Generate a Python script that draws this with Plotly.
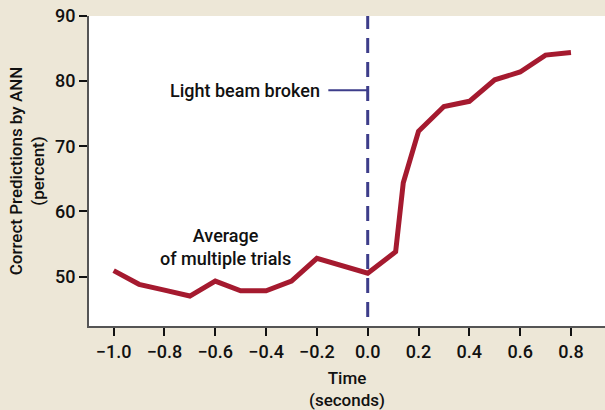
import plotly.graph_objects as go

time_s = [-1.0, -0.9, -0.8, -0.7, -0.6, -0.5, -0.4, -0.3, -0.2, 0.0, 0.11, 0.14, 0.2, 0.3, 0.4, 0.5, 0.6, 0.7, 0.8]
correct_pct = [50.9, 48.8, 47.9, 47.0, 49.3, 47.8, 47.8, 49.3, 52.8, 50.5, 53.8, 64.4, 72.3, 76.1, 76.9, 80.2, 81.4, 84.0, 84.4]
x_ticks = [-1.0, -0.8, -0.6, -0.4, -0.2, 0.0, 0.2, 0.4, 0.6, 0.8]
y_ticks = [50, 60, 70, 80, 90]

FONT = "Roboto"
W = 500
bg = "#EDE7D7"

fig = go.Figure()
fig.add_trace(go.Scatter(x=time_s, y=correct_pct, mode="lines",
                         line=dict(color="#A51A2F", width=5), hoverinfo="skip"))

fig.add_shape(type="line", x0=0, x1=0, y0=43.8, y1=90, xref="x", yref="y",
              line=dict(color="#3D3D8A", width=3, dash="15px,9px"))
fig.add_shape(type="line", x0=-0.155, x1=0, y0=78.6, y1=78.6, xref="x", yref="y",
              line=dict(color="#3D3D8A", width=2))

fig.add_annotation(x=-0.18, y=78.6, text="Light beam broken", showarrow=False,
                   xanchor="right", yanchor="middle",
                   font=dict(family=FONT, size=18, color="#111", weight=W))
fig.add_annotation(x=-0.56, y=54.6, text="Average<br>of multiple trials", showarrow=False,
                   xanchor="center", yanchor="middle", align="center",
                   font=dict(family=FONT, size=18, color="#111", weight=W))

fig.update_layout(
    width=605, height=410,
    margin=dict(l=89, r=0, t=16, b=84),
    paper_bgcolor=bg, plot_bgcolor="white",
    showlegend=False,
    font=dict(family=FONT, size=18, color="#111", weight=W),
    xaxis=dict(range=[-1.097, 0.934], tickvals=x_ticks, tickformat=".1f", automargin=False,
               showgrid=False, zeroline=False, showline=True, linecolor="#555", linewidth=2,
               ticks="outside", ticklen=8, tickwidth=2, tickcolor="#111",
               tickfont=dict(size=18, weight=W),
               title=dict(text="Time<br>(seconds)", font=dict(family=FONT, size=17, weight=W), standoff=12)),
    yaxis=dict(range=[42.4, 90], tickvals=y_ticks, automargin=False,
               showgrid=False, zeroline=False, showline=True, linecolor="#555", linewidth=2,
               ticks="outside", ticklen=8, tickwidth=2, tickcolor="#111",
               tickfont=dict(size=18, weight=W),
               title=dict(text="Correct Predictions by ANN<br>(percent)", font=dict(family=FONT, size=17, weight=W), standoff=6)),
)

fig.write_html("out.html", config={"displayModeBar": False},
               post_script="document.body.style.margin='0';document.body.style.background='%s';" % bg)
